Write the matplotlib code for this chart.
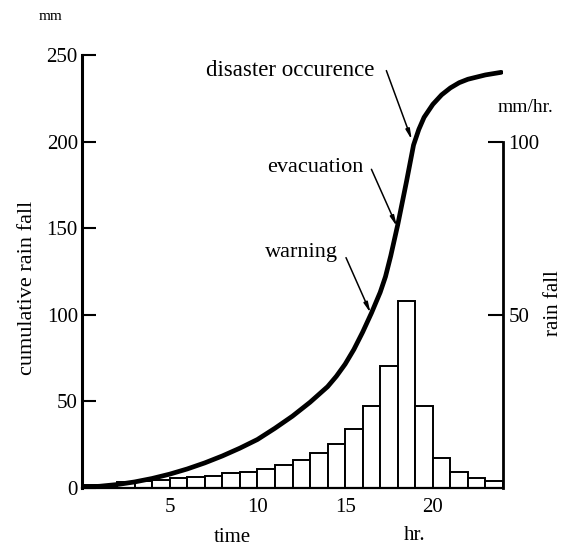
import numpy as np
import matplotlib.pyplot as plt

plt.rcParams['font.family'] = ['Liberation Serif', 'DejaVu Serif']

# hourly rain fall (mm/hr), bar i covers hour i..i+1
hours = list(range(24))
rain = [1.0, 1.0, 1.7, 1.9, 2.4, 2.9, 3.2, 3.5, 4.2, 4.6, 5.6, 6.6,
        8.2, 10.0, 12.8, 17.0, 23.8, 35.2, 54.0, 23.8, 8.6, 4.7, 3.0, 2.0]

# cumulative rain fall (mm)
cum_t = [0, 1, 2, 3, 4, 5, 6, 7, 8, 9, 10, 11, 12, 13, 14, 14.5, 15, 15.5,
         16, 16.5, 17, 17.3, 17.6, 18, 18.5, 18.9, 19.2, 19.5, 20, 20.5, 21,
         21.5, 22, 23, 23.9]
cum_v = [0.5, 1, 2, 3.5, 5.5, 8, 11, 14.5, 18.5, 23, 28, 34.5, 41.5, 49.5,
         58.5, 64.5, 71.5, 80, 90, 101, 113, 122, 134, 152, 177, 198, 207,
         214, 221.5, 227, 231, 234, 236, 238.5, 240]

left_ticks = [0, 50, 100, 150, 200, 250]
right_ticks = [50, 100]
x_ticks = [5, 10, 15, 20]

W, H = 565, 546
fig = plt.figure(figsize=(W / 100, H / 100), dpi=100)
ax = fig.add_axes([82 / W, 58 / H, 421 / W, 433 / H])
ax2 = ax.twinx()

# bars on the right scale
ax2.bar(hours, rain, width=1, align='edge', facecolor='white',
        edgecolor='black', linewidth=1.4)
ax2.set_ylim(0, 125)

# curve on the left scale, drawn over the bars
ax.set_zorder(ax2.get_zorder() + 1)
ax.patch.set_visible(False)
ax.plot(cum_t, cum_v, color='black', lw=3.4, solid_capstyle='round',
        solid_joinstyle='round')
ax.set_xlim(0, 24)
ax.set_ylim(0, 250)

for s in ['top', 'right']:
    ax.spines[s].set_visible(False)
for s in ['top', 'left', 'bottom']:
    ax2.spines[s].set_visible(False)
ax.spines['left'].set_linewidth(2.2)
ax.spines['bottom'].set_linewidth(1.6)
ax2.spines['right'].set_linewidth(2.0)
ax2.spines['right'].set_bounds(0, 100)

ax.set_yticks(left_ticks)
ax.tick_params(axis='y', direction='in', length=10, width=1.5, pad=3,
               labelsize=15)
ax.set_xticks(x_ticks)
ax.tick_params(axis='x', length=0, pad=7, labelsize=15)
ax2.set_yticks(right_ticks)
ax2.tick_params(axis='y', direction='in', length=11, width=1.5, pad=4,
                labelsize=15)

# annotations
arrow = dict(arrowstyle='-|>,head_length=0.6,head_width=0.12',
             color='black', lw=1.1, shrinkA=0, shrinkB=0)
ax.text(16.65, 241, 'disaster occurence', ha='right', va='center', fontsize=16.5)
ax.annotate('', xy=(18.8, 201), xytext=(17.35, 241), arrowprops=arrow)
ax.text(16.05, 185, 'evacuation', ha='right', va='center', fontsize=16)
ax.annotate('', xy=(17.95, 151), xytext=(16.5, 184), arrowprops=arrow)
ax.text(14.6, 136, 'warning', ha='right', va='center', fontsize=16)
ax.annotate('', xy=(16.45, 101), xytext=(15.05, 133), arrowprops=arrow)

# axis titles and units
fig.text(51 / W, 1 - 17 / H, 'mm', ha='center', va='center', fontsize=11)
fig.text(525 / W, 1 - 108 / H, 'mm/hr.', ha='center', va='center', fontsize=14)
fig.text(28 / W, 1 - 288 / H, 'cumulative rain fall', rotation=90,
         ha='center', va='center', fontsize=16)
fig.text(553 / W, 1 - 303 / H, 'rain fall', rotation=90,
         ha='center', va='center', fontsize=15)
fig.text(232 / W, 1 - 537 / H, 'time', ha='center', va='center', fontsize=15)
fig.text(415 / W, 1 - 535 / H, 'hr.', ha='center', va='center', fontsize=15)

fig.savefig('out.png', dpi=100)
